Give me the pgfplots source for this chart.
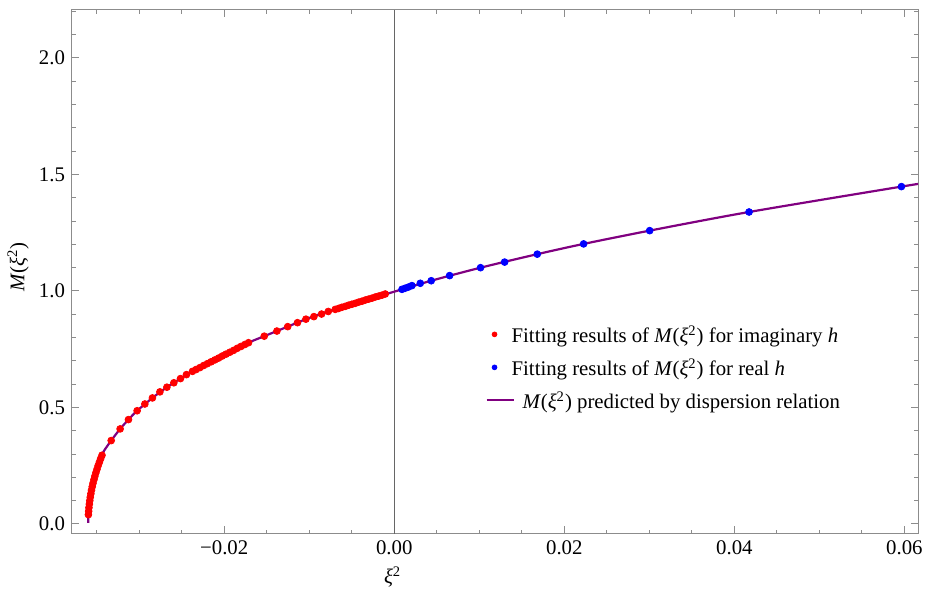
\documentclass[border=0pt]{standalone}
\usepackage{fontspec}
\setmainfont{Liberation Serif}
\usepackage{pgfplots}
\pgfplotsset{compat=1.18}
\newcommand{\Mx}{\textit{M}(\textit{ξ}\textsuperscript{2})}
\newcommand{\fs}{\fontsize{10.4pt}{12pt}\selectfont}
\newcommand{\lst}{\rule[-1.5pt]{0pt}{11.5pt}}
\definecolor{mpurple}{rgb}{0.5,0,0.5}
\begin{document}
\begin{tikzpicture}
\useasboundingbox (-36pt,-29pt) rectangle (426.5pt,267pt);
\begin{axis}[
 at={(0pt,0pt)}, anchor=south west,
 scale only axis, width=423pt, height=262pt,
 xmin=-0.0379, xmax=0.0616, ymin=-0.043, ymax=2.206,
 scaled x ticks=false, scaled y ticks=false,
 xtick={-0.02,0,0.02,0.04,0.06},
 xticklabels={−0.02,0.00,0.02,0.04,0.06},
 ytick={0,0.5,1,1.5,2},
 yticklabels={0.0,0.5,1.0,1.5,2.0},
 minor xtick={-0.035,-0.03,-0.025,-0.015,-0.01,-0.005,0.005,0.01,0.015,0.025,0.03,0.035,0.045,0.05,0.055},
 minor ytick={0.1,0.2,0.3,0.4,0.6,0.7,0.8,0.9,1.1,1.2,1.3,1.4,1.6,1.7,1.8,1.9,2.1,2.2},
 tick align=inside,
 major tick length=3.75pt, minor tick length=2.2pt,
 axis line style={black!45, line width=0.5pt},
 every tick/.style={black!45, line width=0.5pt},
 tick label style={font=\fs, black},
 xlabel={\textit{ξ}\textsuperscript{2}},
 ylabel={\Mx},
 xlabel style={at={(axis description cs:0.379,-0.082)}, anchor=center, font=\fs},
 ylabel style={at={(axis description cs:-0.0638,0.509)}, anchor=center, font=\fs},
 legend style={draw=none, fill=none, at={(0.4882,0.318)}, anchor=west, inner sep=0pt, font=\fs, row sep=1pt},
 legend cell align=left,
]
\addplot[forget plot, black!60, line width=0.5pt] coordinates {(0,-0.043) (0,2.206)};

\addplot[red, only marks, mark=*, mark size=1.7pt, mark options={solid, draw=red, fill=red, line width=0.4pt},
 legend image code/.code={\path (0pt,0pt) (13.5pt,0pt); \fill[red] (4pt,0pt) circle (1.2pt);}]
 coordinates {
 (-0.03597,0.040)(-0.03594,0.055)(-0.03591,0.070)(-0.03586,0.085)(-0.03581,0.100)(-0.03575,0.115)
 (-0.03568,0.130)(-0.03561,0.145)(-0.03552,0.160)(-0.03543,0.175)(-0.03532,0.190)(-0.03521,0.205)
 (-0.03509,0.220)(-0.03496,0.235)(-0.03483,0.250)(-0.03468,0.265)(-0.03453,0.280)(-0.03437,0.295)
 (-0.03329,0.358)(-0.03224,0.408)(-0.03126,0.448)(-0.03024,0.486)(-0.02933,0.515)(-0.02844,0.541)
 (-0.02756,0.567)(-0.02674,0.587)(-0.02592,0.606)(-0.02514,0.624)(-0.02444,0.641)(-0.02373,0.655)
 (-0.02330,0.663)(-0.02286,0.671)(-0.02242,0.680)(-0.02198,0.688)(-0.02154,0.696)(-0.02110,0.704)
 (-0.02066,0.712)(-0.02022,0.721)(-0.01978,0.729)(-0.01934,0.737)(-0.01890,0.745)(-0.01846,0.754)
 (-0.01802,0.762)(-0.01758,0.770)(-0.01714,0.778)
 (-0.01529,0.806)(-0.01380,0.828)(-0.01253,0.847)(-0.01138,0.864)(-0.01039,0.879)(-0.00945,0.890)
 (-0.00855,0.901)(-0.00776,0.912)
 (-0.00694,0.921)(-0.00655,0.925)(-0.00616,0.930)(-0.00576,0.934)(-0.00537,0.939)(-0.00498,0.943)
 (-0.00459,0.947)(-0.00420,0.952)(-0.00380,0.956)(-0.00341,0.961)(-0.00302,0.965)(-0.00263,0.969)
 (-0.00224,0.974)(-0.00184,0.978)(-0.00145,0.982)(-0.00106,0.987)
 };
\addlegendentry{\hspace*{-3.5pt}\lst Fitting results of \Mx{} for imaginary \textit{h}}

\addplot[blue, only marks, mark=*, mark size=1.7pt, mark options={solid, draw=blue, fill=blue, line width=0.4pt},
 legend image code/.code={\path (0pt,0pt) (13.5pt,0pt); \fill[blue] (4pt,0pt) circle (1.2pt);}]
 coordinates {
 (0.00091,1.007)(0.00129,1.012)(0.00168,1.017)(0.00208,1.023)(0.00306,1.033)(0.00435,1.044)
 (0.00651,1.066)(0.01015,1.100)(0.01298,1.124)(0.01682,1.158)(0.02227,1.202)(0.03004,1.259)
 (0.04173,1.339)(0.05965,1.448)
 };
\addlegendentry{\hspace*{-3.5pt}\lst Fitting results of \Mx{} for real \textit{h}}

\addplot[mpurple, line width=1.1pt, smooth, no marks,
 legend image code/.code={\draw[mpurple, line width=1.1pt] (0pt,0pt) -- (13.5pt,0pt);}]
 coordinates {
 (-0.03598,0.005)(-0.03597,0.040)(-0.03591,0.070)(-0.03581,0.100)(-0.03568,0.130)(-0.03552,0.160)
 (-0.03532,0.190)(-0.03509,0.220)(-0.03483,0.250)(-0.03453,0.280)(-0.03420,0.310)(-0.03329,0.358)
 (-0.03224,0.408)(-0.03126,0.448)(-0.03024,0.486)(-0.02844,0.541)(-0.02674,0.587)(-0.02514,0.624)
 (-0.02373,0.655)(-0.02000,0.725)(-0.01714,0.778)(-0.01529,0.806)(-0.01253,0.847)(-0.01039,0.879)
 (-0.00776,0.912)(-0.00400,0.954)(0,0.997)(0.00435,1.044)(0.01015,1.100)(0.01682,1.158)
 (0.02227,1.202)(0.03004,1.259)(0.04173,1.339)(0.05965,1.448)(0.0616,1.459)
 };
\addlegendentry{\hspace*{2pt}\lst\Mx{} predicted by dispersion relation}
\end{axis}
\end{tikzpicture}
\end{document}
